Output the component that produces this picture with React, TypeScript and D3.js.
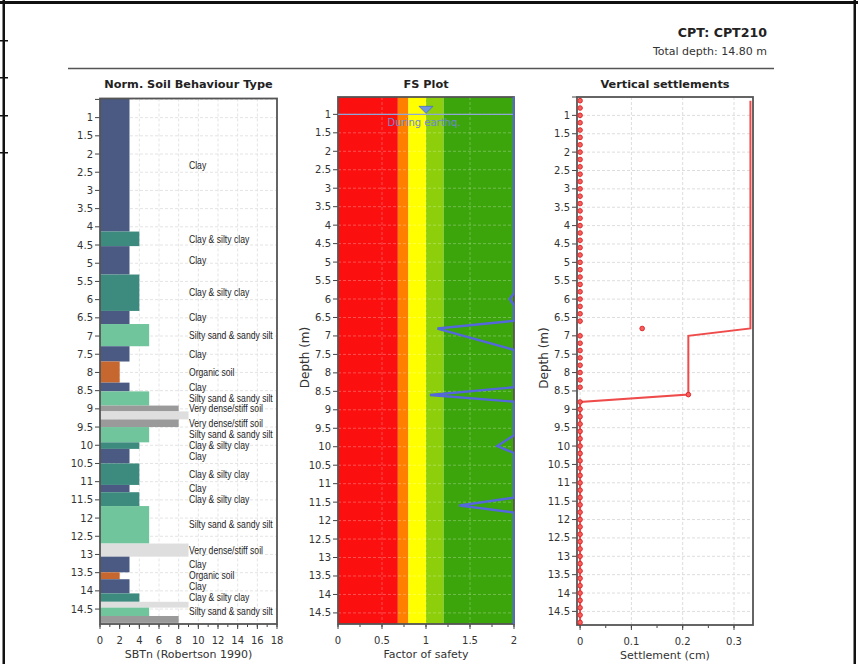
import React, { useEffect, useRef } from "react";
import * as d3 from "d3";

// soil layers (SBTn plot)
const layerTop = [0.475, 4.13, 4.53, 5.31, 6.31, 6.67, 7.28, 7.7, 8.28, 8.52, 8.91, 9.07, 9.29, 9.5, 9.92, 10.1, 10.5, 11.09, 11.29, 11.67, 12.7, 13.06, 13.49, 13.68, 14.07, 14.3, 14.46, 14.69];
const layerBottom = [4.13, 4.53, 5.31, 6.31, 6.67, 7.28, 7.7, 8.28, 8.52, 8.91, 9.07, 9.29, 9.5, 9.92, 10.1, 10.5, 11.09, 11.29, 11.67, 12.7, 13.06, 13.49, 13.68, 14.07, 14.3, 14.46, 14.69, 14.88];
const layerZone = [3, 4, 3, 4, 3, 5, 3, 2, 3, 5, 8, 9, 8, 5, 4, 3, 4, 3, 4, 5, 9, 3, 2, 3, 4, 9, 5, 8];
const layerLabel = [
  "Clay", "Clay & silty clay", "Clay", "Clay & silty clay", "Clay",
  "Silty sand & sandy silt", "Clay", "Organic soil", "Clay", "Silty sand & sandy silt",
  "Very dense/stiff soil", "", "Very dense/stiff soil", "Silty sand & sandy silt", "Clay & silty clay",
  "Clay", "Clay & silty clay", "Clay", "Clay & silty clay", "Silty sand & sandy silt",
  "Very dense/stiff soil", "Clay", "Organic soil", "Clay", "Clay & silty clay",
  "", "Silty sand & sandy silt", "",
];
const zoneColor: Record<number, string> = {
  2: "#c6672f",
  3: "#4a5a83",
  4: "#3c8b7e",
  5: "#71c59c",
  8: "#9a9a9a",
  9: "#dedede",
};

// FS plot
const fsBandFrom = [0, 0.68, 0.8, 1.0, 1.2];
const fsBandTo = [0.68, 0.8, 1.0, 1.2, 2];
const fsBandColor = ["#fb0f0f", "#ff8000", "#ffff00", "#8ccf0a", "#3ba50b"];
const fsDepth = [0.53, 5.84, 6.0, 6.17, 6.59, 6.8, 7.38, 8.39, 8.6, 8.78, 9.69, 9.98, 10.17, 11.38, 11.59, 11.78, 14.8];
const fsValue = [2, 2, 1.95, 2, 2, 1.13, 2, 2, 1.045, 2, 2, 1.81, 2, 2, 1.378, 2, 2];
const waterDepth = 1.0;

// vertical settlements
const settleDepth = [
  0.6, 0.8, 1.0, 1.2, 1.4, 1.6, 1.8, 2.0, 2.2, 2.4,
  2.6, 2.8, 3.0, 3.2, 3.4, 3.6, 3.8, 4.0, 4.2, 4.4,
  4.6, 4.8, 5.0, 5.2, 5.4, 5.6, 5.8, 6.0, 6.2, 6.4,
  6.6, 6.8, 7.0, 7.2, 7.4, 7.6, 7.8, 8.0, 8.2, 8.4,
  8.6, 8.8, 9.0, 9.2, 9.4, 9.6, 9.8, 10.0, 10.2, 10.4,
  10.6, 10.8, 11.0, 11.2, 11.4, 11.6, 11.8, 12.0, 12.2, 12.4,
  12.6, 12.8, 13.0, 13.2, 13.4, 13.6, 13.8, 14.0, 14.2, 14.4,
  14.6, 14.8,
];
const settleValue = [
  0, 0, 0, 0, 0, 0, 0, 0, 0, 0,
  0, 0, 0, 0, 0, 0, 0, 0, 0, 0,
  0, 0, 0, 0, 0, 0, 0, 0, 0, 0,
  0, 0.121, 0, 0, 0, 0, 0, 0, 0, 0,
  0.211, 0, 0, 0, 0, 0, 0, 0, 0, 0,
  0, 0, 0, 0, 0, 0, 0, 0, 0, 0,
  0, 0, 0, 0, 0, 0, 0, 0, 0, 0,
  0, 0,
];

const depthTicks = [0.5, 1, 1.5, 2, 2.5, 3, 3.5, 4, 4.5, 5, 5.5, 6, 6.5, 7, 7.5, 8, 8.5, 9, 9.5, 10, 10.5, 11, 11.5, 12, 12.5, 13, 13.5, 14, 14.5];
const sbtTicks = [0, 2, 4, 6, 8, 10, 12, 14, 16, 18];
const fsTicks = [0, 0.5, 1, 1.5, 2];
const settleTicks = [0, 0.1, 0.2, 0.3];

const FONT = "'DejaVu Sans', Verdana, sans-serif";
const LABEL_FONT = "'Liberation Sans', Arial, sans-serif";

type Panel = {
  x0: number; x1: number; y0: number; y1: number;
  xDomain: [number, number]; yDomain: [number, number];
  xTicks: number[]; minorStep: number;
  title: string; xTitle: string; yTitle?: string;
  gridColor: string;
};

const panels: Panel[] = [
  { x0: 100, x1: 277, y0: 98.5, y1: 624, xDomain: [0, 18], yDomain: [0.475, 14.91], xTicks: sbtTicks, minorStep: 1, title: "Norm. Soil Behaviour Type", xTitle: "SBTn (Robertson 1990)", gridColor: "#e4e4e4" },
  { x0: 338, x1: 514, y0: 97, y1: 624, xDomain: [0, 2], yDomain: [0.53, 14.8], xTicks: fsTicks, minorStep: 0.25, title: "FS Plot", xTitle: "Factor of safety", yTitle: "Depth (m)", gridColor: "rgba(255,255,255,0.28)" },
  { x0: 577, x1: 753, y0: 97, y1: 625, xDomain: [-0.006, 0.337], yDomain: [0.5, 14.87], xTicks: settleTicks, minorStep: 0.05, title: "Vertical settlements", xTitle: "Settlement (cm)", yTitle: "Depth (m)", gridColor: "#dddddd" },
];

const App = () => {
  const ref = useRef<SVGSVGElement | null>(null);

  useEffect(() => {
    document.body.style.margin = "0";
    const svg = d3.select(ref.current);
    svg.selectAll("*").remove();

    svg.append("rect").attr("width", 858).attr("height", 664).attr("fill", "#fff");

    // outer frame bits
    svg.append("rect").attr("x", 0).attr("y", 1).attr("width", 858).attr("height", 3).attr("fill", "#111");
    svg.append("rect").attr("x", 2.5).attr("y", 0).attr("width", 2.5).attr("height", 664).attr("fill", "#111");
    svg.append("rect").attr("x", 853.5).attr("y", 0).attr("width", 2.5).attr("height", 664).attr("fill", "#111");
    [40, 77, 115, 152].forEach((y) => {
      svg.append("rect").attr("x", 0).attr("y", y).attr("width", 8).attr("height", 1.5).attr("fill", "#111");
    });

    // header
    svg.append("text").attr("x", 767).attr("y", 37).attr("text-anchor", "end")
      .attr("font-family", FONT).attr("font-weight", "bold").attr("font-size", 12.6).attr("fill", "#222")
      .text("CPT: CPT210");
    svg.append("text").attr("x", 767).attr("y", 55).attr("text-anchor", "end")
      .attr("font-family", FONT).attr("font-size", 11).attr("fill", "#333")
      .text("Total depth: 14.80 m");
    svg.append("line").attr("x1", 68).attr("x2", 774).attr("y1", 68.5).attr("y2", 68.5)
      .attr("stroke", "#555").attr("stroke-width", 1.5);

    const scales = panels.map((p) => ({
      x: d3.scaleLinear().domain(p.xDomain).range([p.x0, p.x1]),
      y: d3.scaleLinear().domain(p.yDomain).range([p.y0, p.y1]),
    }));

    panels.forEach((p, i) => {
      const { x, y } = scales[i];
      const g = svg.append("g");
      const clipId = `clip${i}`;
      svg.append("clipPath").attr("id", clipId).append("rect")
        .attr("x", p.x0).attr("y", p.y0).attr("width", p.x1 - p.x0).attr("height", p.y1 - p.y0);

      const body = g.append("g").attr("clip-path", `url(#${clipId})`);

      if (i === 1) {
        body.selectAll("rect.band").data(fsBandFrom).enter().append("rect")
          .attr("x", (d) => x(d)).attr("width", (d, k) => x(fsBandTo[k]) - x(d))
          .attr("y", p.y0).attr("height", p.y1 - p.y0)
          .attr("fill", (d, k) => fsBandColor[k]);
      }

      // grid
      const ticksIn = depthTicks.filter((t) => t >= p.yDomain[0] && t <= p.yDomain[1]);
      body.selectAll("line.gy").data(ticksIn).enter().append("line")
        .attr("x1", p.x0).attr("x2", p.x1).attr("y1", (d) => y(d)).attr("y2", (d) => y(d))
        .attr("stroke", p.gridColor).attr("stroke-dasharray", "3,2");
      body.selectAll("line.gx").data(p.xTicks).enter().append("line")
        .attr("y1", p.y0).attr("y2", p.y1).attr("x1", (d) => x(d)).attr("x2", (d) => x(d))
        .attr("stroke", p.gridColor).attr("stroke-dasharray", "3,2");

      // titles
      svg.append("text").attr("x", (p.x0 + p.x1) / 2).attr("y", 88).attr("text-anchor", "middle")
        .attr("font-family", FONT).attr("font-weight", "bold").attr("font-size", 11.3).attr("fill", "#222")
        .text(p.title);
      svg.append("text").attr("x", (p.x0 + p.x1) / 2).attr("y", p.y1 + 34).attr("text-anchor", "middle")
        .attr("font-family", FONT).attr("font-size", 11).attr("fill", "#333")
        .text(p.xTitle);
      if (p.yTitle) {
        svg.append("text")
          .attr("transform", `translate(${p.x0 - 29},${(p.y0 + p.y1) / 2 - 3}) rotate(-90)`)
          .attr("text-anchor", "middle").attr("font-family", FONT).attr("font-size", 12).attr("fill", "#333")
          .text(p.yTitle);
      }

      // y ticks
      g.selectAll("line.ty").data(ticksIn).enter().append("line")
        .attr("x1", p.x0 - 5).attr("x2", p.x0).attr("y1", (d) => y(d)).attr("y2", (d) => y(d))
        .attr("stroke", "#444");
      g.selectAll("text.ty").data(ticksIn.filter((t) => t >= 1)).enter().append("text")
        .attr("x", p.x0 - 7).attr("y", (d) => y(d)).attr("dy", "0.35em").attr("text-anchor", "end")
        .attr("font-family", FONT).attr("font-size", 10).attr("fill", "#333")
        .text((d) => String(d));

      // x ticks
      const minor = d3.range(p.xDomain[0] < 0 ? 0 : p.xDomain[0], p.xDomain[1] + 1e-9, p.minorStep)
        .filter((v) => v >= p.xDomain[0] && v <= p.xDomain[1]);
      g.selectAll("line.tm").data(minor).enter().append("line")
        .attr("x1", (d) => x(d)).attr("x2", (d) => x(d)).attr("y1", p.y1).attr("y2", p.y1 + 3)
        .attr("stroke", "#444");
      g.selectAll("line.tx").data(p.xTicks).enter().append("line")
        .attr("x1", (d) => x(d)).attr("x2", (d) => x(d)).attr("y1", p.y1).attr("y2", p.y1 + 5)
        .attr("stroke", "#444");
      g.selectAll("text.tx").data(p.xTicks).enter().append("text")
        .attr("x", (d) => x(d)).attr("y", p.y1 + 20).attr("text-anchor", "middle")
        .attr("font-family", FONT).attr("font-size", 10).attr("fill", "#333")
        .text((d) => String(d));

      if (i === 0) {
        body.selectAll("rect.layer").data(layerTop).enter().append("rect")
          .attr("x", x(0)).attr("width", (d, k) => x(layerZone[k]) - x(0))
          .attr("y", (d) => y(d)).attr("height", (d, k) => y(layerBottom[k]) - y(d))
          .attr("fill", (d, k) => zoneColor[layerZone[k]]);
        // condensed labels
        g.selectAll("text.lbl").data(layerTop).enter().append("text")
          .attr("transform", (d, k) => `translate(189,${y((d + layerBottom[k]) / 2)}) scale(0.82,1)`)
          .attr("dy", "0.35em")
          .attr("font-family", LABEL_FONT).attr("font-size", 10.5).attr("fill", "#1e1e1e")
          .text((d, k) => layerLabel[k]);
      }

      // frame
      g.append("rect").attr("x", p.x0).attr("y", p.y0).attr("width", p.x1 - p.x0).attr("height", p.y1 - p.y0)
        .attr("fill", "none").attr("stroke", "#555").attr("stroke-width", 1.8);

      if (i === 1) {
        const wy = y(waterDepth);
        const wx = x(1);
        g.append("line").attr("x1", p.x0).attr("x2", p.x1).attr("y1", wy).attr("y2", wy)
          .attr("stroke", "#8ea7d8").attr("stroke-width", 1.2);
        g.append("path").attr("d", `M${wx - 7},${wy - 8}L${wx + 7},${wy - 8}L${wx},${wy - 1}Z`)
          .attr("fill", "#6f95dc").attr("stroke", "#4a70c4").attr("stroke-width", 0.8);
        g.append("text").attr("x", wx - 2).attr("y", wy + 12).attr("text-anchor", "middle")
          .attr("font-family", FONT).attr("font-size", 10).attr("fill", "#7088d2")
          .text("During earthq.");

        const line = d3.line<number>().x((d, k) => x(fsValue[k])).y((d) => y(d));
        g.append("clipPath").attr("id", "fsclip").append("rect")
          .attr("x", p.x0).attr("y", p.y0).attr("width", p.x1 - p.x0 + 0.6).attr("height", p.y1 - p.y0);
        g.append("path").attr("d", line(fsDepth) || "").attr("clip-path", "url(#fsclip)")
          .attr("fill", "none").attr("stroke", "#5567dc").attr("stroke-width", 2.4);
      }

      if (i === 2) {
        const cum = d3.cumsum(settleValue.slice().reverse()).reverse();
        const line = d3.line<number>().x((d, k) => x(cum[k])).y((d) => y(d));
        g.append("path").attr("d", line(settleDepth) || "")
          .attr("fill", "none").attr("stroke", "#ef4b4b").attr("stroke-width", 2);
        g.selectAll("circle.pt").data(settleDepth).enter().append("circle")
          .attr("cx", (d, k) => x(settleValue[k])).attr("cy", (d) => y(d)).attr("r", 2.3)
          .attr("fill", "#f46060").attr("stroke", "#e02828").attr("stroke-width", 1);
      }
    });
  }, []);

  return <svg ref={ref} width={858} height={664} style={{ display: "block" }} />;
};

export default App;
